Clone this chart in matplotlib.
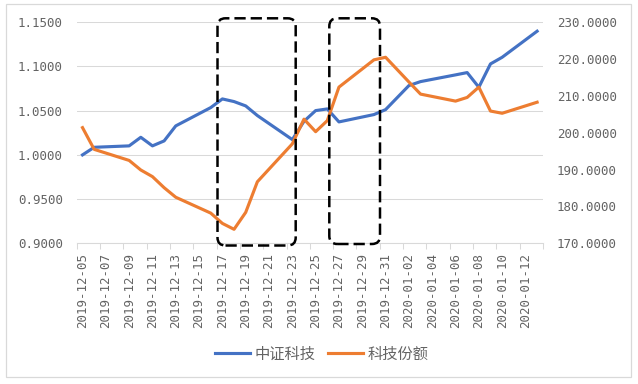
import matplotlib
matplotlib.use("Agg")
import matplotlib.pyplot as plt
from matplotlib.patches import FancyBboxPatch, Rectangle
from matplotlib.ticker import FormatStrFormatter, FixedLocator
from matplotlib.transforms import IdentityTransform
import pandas as pd

plt.rcParams['font.family'] = ['DejaVu Sans Mono', 'Noto Sans CJK SC']

# trading days
dates = ['2019-12-05', '2019-12-06', '2019-12-09', '2019-12-10', '2019-12-11',
         '2019-12-12', '2019-12-13', '2019-12-16', '2019-12-17', '2019-12-18',
         '2019-12-19', '2019-12-20', '2019-12-23', '2019-12-24', '2019-12-25',
         '2019-12-26', '2019-12-27', '2019-12-30', '2019-12-31', '2020-01-02',
         '2020-01-03', '2020-01-06', '2020-01-07', '2020-01-08', '2020-01-09',
         '2020-01-10', '2020-01-13']

# 中证科技 (left axis)
index_vals = [1.000, 1.0086, 1.0102, 1.0199, 1.0102, 1.0158, 1.0328, 1.0535, 1.0633,
              1.0603, 1.0554, 1.0445, 1.0173, 1.038, 1.0501, 1.052, 1.0373, 1.0456,
              1.0512, 1.0784, 1.0829, 1.0905, 1.0931, 1.0765, 1.1029, 1.1104, 1.1399]

# 科技份额 (right axis)
share_vals = [201.4, 195.5, 192.5, 189.9, 188.1, 185.1, 182.5, 178.2, 175.4, 173.8,
              178.4, 186.7, 197.0, 203.7, 200.3, 203.3, 212.4, 219.8, 220.5, 213.8,
              210.5, 208.6, 209.6, 212.4, 205.9, 205.3, 208.3]

start = pd.Timestamp('2019-12-05')
n_days = 40
days = [(pd.Timestamp(d) - start).days for d in dates]
label_days = list(range(0, n_days, 2))
labels = [(start + pd.Timedelta(days=d)).strftime('%Y-%m-%d') for d in label_days]

BLUE = '#4472C4'
ORANGE = '#ED7D31'
GRID = '#D9D9D9'
TXT = '#636363'

fig = plt.figure(figsize=(6.38, 3.84), dpi=100)
ax = fig.add_axes([0.1202, 0.3664, 0.7308, 0.5756])
ax2 = ax.twinx()

ax.plot(days, index_vals, color=BLUE, lw=2.25, label='中证科技', zorder=3)
ax2.plot(days, share_vals, color=ORANGE, lw=2.25, label='科技份额', zorder=3)

ax.set_xlim(-0.5, n_days - 0.5)
ax.set_ylim(0.9, 1.15)
ax2.set_ylim(170, 230)
ax.set_yticks([0.9, 0.95, 1.0, 1.05, 1.1, 1.15])
ax2.set_yticks(range(170, 231, 10))
ax.yaxis.set_major_formatter(FormatStrFormatter('%.4f'))
ax2.yaxis.set_major_formatter(FormatStrFormatter('%.4f'))

ax.set_xticks(label_days)
ax.set_xticklabels(labels, rotation=90)
ax.xaxis.set_minor_locator(FixedLocator([d - 0.5 for d in range(0, n_days + 1, 2)]))
ax.tick_params(axis='x', which='major', length=0, pad=7, labelsize=9, labelcolor=TXT)
ax.tick_params(axis='x', which='minor', length=4, width=0.75, color=GRID)
ax.tick_params(axis='y', length=0, pad=10, labelsize=9, labelcolor=TXT)
ax2.tick_params(axis='y', length=0, pad=10, labelsize=9, labelcolor=TXT)

ax.grid(axis='y', color=GRID, lw=0.75)
ax.set_axisbelow(True)
for a in (ax, ax2):
    for s in ('top', 'left', 'right'):
        a.spines[s].set_visible(False)
    a.spines['bottom'].set_color(GRID)
    a.spines['bottom'].set_linewidth(0.75)

# dashed highlight boxes (pixel coords)
H = 384
for x0, x1, y0, y1 in [(217.5, 295.7, 18.3, 245.5), (329.3, 380.0, 18.3, 244.0)]:
    box = FancyBboxPatch((x0 + 8, H - y1 + 8), (x1 - x0) - 16, (y1 - y0) - 16,
                         boxstyle='round,pad=8,rounding_size=8',
                         transform=IdentityTransform(), fill=False,
                         edgecolor='black', lw=1.8, ls=(0, (4.5, 2)), zorder=10)
    fig.add_artist(box)

# chart border
fig.add_artist(Rectangle((6 / 638, 7 / 384), 625 / 638, 373 / 384,
                         transform=fig.transFigure, fill=False,
                         edgecolor=GRID, lw=0.9))

h1, l1 = ax.get_legend_handles_labels()
h2, l2 = ax2.get_legend_handles_labels()
fig.legend(h1 + h2, l1 + l2, loc='center', bbox_to_anchor=(0.504, 0.078),
           ncol=2, frameon=False, handlelength=2.3, handletextpad=0.3,
           columnspacing=0.8, prop={'family': ['Noto Sans CJK SC'], 'size': 11},
           labelcolor=TXT)

fig.savefig('out.png', dpi=100)
